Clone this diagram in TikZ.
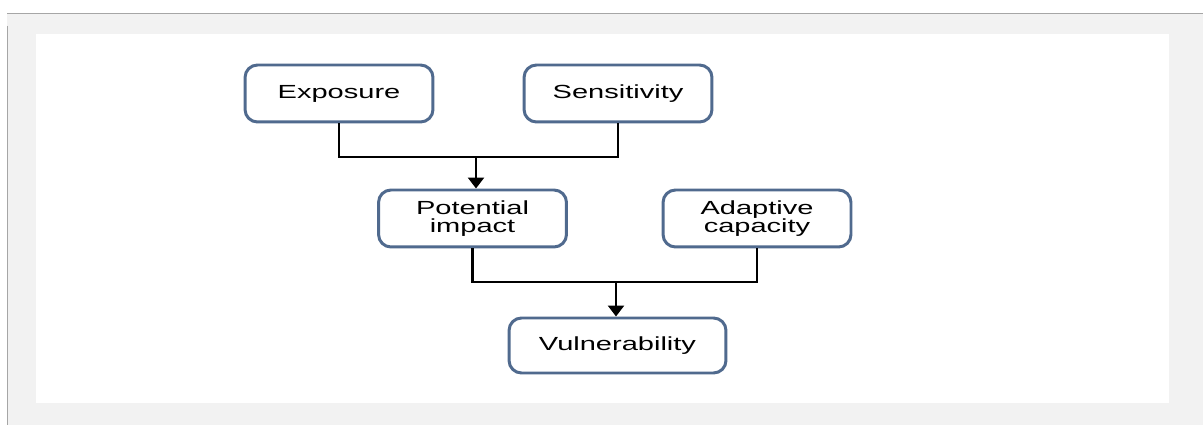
\documentclass[tikz,border=0pt]{standalone}
\usepackage{fontspec}
\setmainfont[FakeStretch=1.53]{Liberation Sans}
\usetikzlibrary{arrows.meta}
\definecolor{framegrey}{RGB}{166,166,166}
\definecolor{panel}{RGB}{242,242,242}
\definecolor{edge}{RGB}{80,106,142}

\begin{document}
\begin{tikzpicture}[x=0.02cm,y=-0.02cm,
  box/.style={draw=edge,line width=1.7pt,rounded corners=0.25cm,fill=white,align=center,
    minimum width=3.76cm,minimum height=1.14cm,inner sep=0pt,
    font=\fontsize{10.8}{10.3}\selectfont},
  link/.style={line width=1.4pt,black},
  tip/.style={link,-{Triangle[width=0.32cm,length=0.22cm]}}]
  \useasboundingbox (0,0) rectangle (1203,425);
  % background panel
  \fill[panel] (7,13) rectangle (1203,425);
  \fill[white] (36,34) rectangle (1169,403);
  \draw[framegrey,line width=0.9pt] (7,13.5)--(1203,13.5);
  \draw[framegrey,line width=1.1pt] (7.5,26)--(7.5,425);
  % boxes
  \node[box] (expo) at (339,93.5){Exposure};
  \node[box] (sens) at (618,93.5){Sensitivity};
  \node[box] (pot) at (472.5,218.5){Potential\\impact};
  \node[box] (adapt) at (757,218.5){Adaptive\\capacity};
  \node[box,minimum width=4.34cm,minimum height=1.1cm] (vul) at (617.5,345.5){Vulnerability};
  % connectors
  \coordinate (j1) at (476,157);
  \coordinate (j2) at (616,282);
  \draw[link] (expo.south) |- (j1) -| (sens.south);
  \draw[tip] (j1) -- (j1 |- pot.north);
  \draw[link] (pot.south) |- (j2) -| (adapt.south);
  \draw[tip] (j2) -- (j2 |- vul.north);
\end{tikzpicture}
\end{document}
